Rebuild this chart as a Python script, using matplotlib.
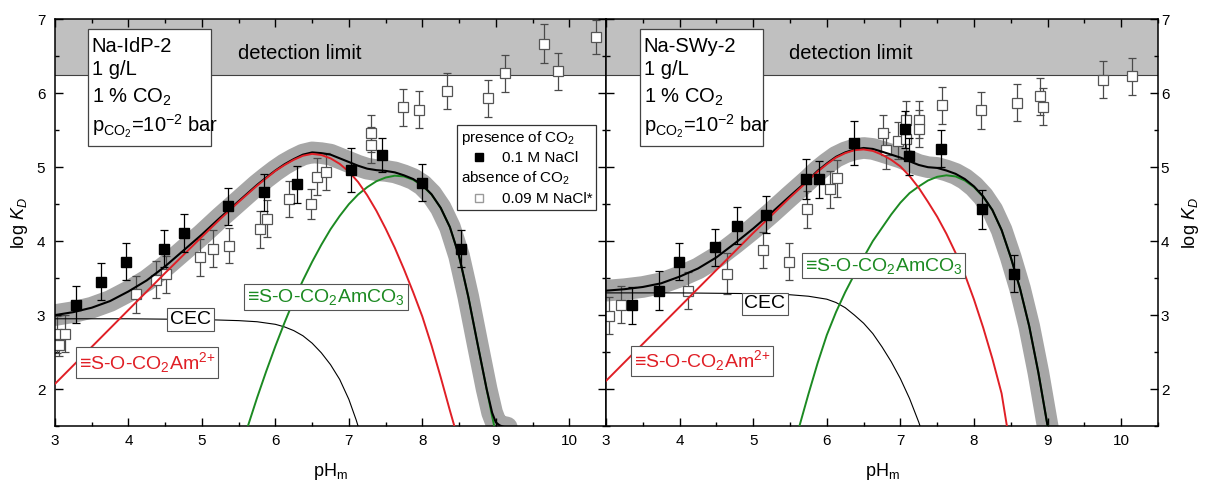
import matplotlib
matplotlib.use("Agg")
import matplotlib.pyplot as plt
from matplotlib.lines import Line2D
from matplotlib.patches import Rectangle
from matplotlib.ticker import MultipleLocator

plt.rcParams['font.family'] = ['Liberation Sans', 'DejaVu Sans']
plt.rcParams['mathtext.fontset'] = 'custom'
plt.rcParams['mathtext.rm'] = 'Liberation Sans'
plt.rcParams['mathtext.it'] = 'Liberation Sans:italic'
plt.rcParams['mathtext.bf'] = 'Liberation Sans:bold'

# ---------------- Na-IdP-2 ----------------
idp_ph_co2 = [3.28, 3.62, 3.97, 4.49, 4.75, 5.36, 5.84, 6.29, 7.03, 7.45, 7.99, 8.53]
idp_kd_co2 = [3.14, 3.45, 3.72, 3.90, 4.11, 4.47, 4.66, 4.77, 4.96, 5.17, 4.79, 3.90]
idp_err_co2 = [0.25, 0.25, 0.25, 0.25, 0.26, 0.25, 0.25, 0.25, 0.30, 0.23, 0.25, 0.25]

idp_ph_noco2 = [3.03, 3.13, 3.06, 4.10, 4.37, 4.51, 4.98, 5.15, 5.37, 5.79, 5.89, 6.19,
                6.48, 6.56, 6.69, 7.30, 7.30, 7.74, 7.95, 8.33, 8.89, 9.12, 9.65, 9.84, 10.37]
idp_kd_noco2 = [2.74, 2.75, 2.59, 3.28, 3.48, 3.55, 3.78, 3.90, 3.94, 4.16, 4.30, 4.57,
                4.50, 4.87, 4.94, 5.30, 5.46, 5.81, 5.78, 6.03, 5.93, 6.27, 6.67, 6.30, 6.76]
idp_err_noco2 = [0.25, 0.25, 0.15, 0.25, 0.25, 0.25, 0.25, 0.25, 0.24, 0.25, 0.25, 0.25,
                 0.20, 0.25, 0.25, 0.25, 0.25, 0.25, 0.25, 0.24, 0.25, 0.25, 0.26, 0.25, 0.23]

idp_red_ph = [3.0, 3.5, 4.0, 4.5, 5.0, 5.25, 5.5, 5.75, 5.875, 6.0, 6.125, 6.25, 6.375, 6.5,
              6.625, 6.75, 6.875, 7.0, 7.125, 7.25, 7.375, 7.5, 7.625, 7.75, 7.875, 8.0,
              8.125, 8.25, 8.375, 8.45]
idp_red_kd = [2.07, 2.57, 3.07, 3.57, 4.06, 4.30, 4.53, 4.75, 4.85, 4.95, 5.03, 5.10, 5.155, 5.18,
              5.165, 5.12, 5.045, 4.94, 4.80, 4.62, 4.41, 4.17, 3.91, 3.62, 3.31, 2.98,
              2.59, 2.16, 1.71, 1.45]

idp_green_ph = [5.60, 5.75, 5.875, 6.0, 6.125, 6.25, 6.375, 6.5, 6.625, 6.75, 6.875, 7.0,
                7.125, 7.25, 7.375, 7.5, 7.625, 7.75, 7.875, 8.0, 8.125, 8.25, 8.375, 8.5,
                8.625, 8.75, 8.875, 8.95, 9.0]
idp_green_kd = [1.42, 1.88, 2.24, 2.58, 2.90, 3.20, 3.47, 3.72, 3.95, 4.16, 4.34, 4.50,
                4.63, 4.73, 4.81, 4.86, 4.885, 4.875, 4.83, 4.75, 4.63, 4.45, 4.19, 3.80,
                3.25, 2.62, 2.00, 1.63, 1.40]

idp_cec_ph = [3.0, 4.0, 5.0, 5.5, 5.75, 6.0, 6.125, 6.25, 6.375, 6.5, 6.625, 6.75, 6.875,
              7.0, 7.1, 7.15]
idp_cec_kd = [2.95, 2.95, 2.94, 2.925, 2.91, 2.875, 2.84, 2.79, 2.72, 2.62, 2.49, 2.33, 2.13,
              1.86, 1.58, 1.42]

idp_tot_ph = [3.0, 3.25, 3.5, 3.75, 4.0, 4.25, 4.5, 4.75, 5.0, 5.25, 5.5, 5.75, 5.875, 6.0,
              6.125, 6.25, 6.375, 6.5, 6.625, 6.75, 6.875, 7.0, 7.125, 7.25, 7.375, 7.5,
              7.625, 7.75, 7.875, 8.0, 8.125, 8.25, 8.375, 8.5, 8.625, 8.75, 8.875, 8.95,
              9.0, 9.05, 9.1, 9.15]
idp_tot_kd = [3.00, 3.04, 3.10, 3.19, 3.32, 3.47, 3.66, 3.875, 4.09, 4.32, 4.54, 4.76, 4.86, 4.955,
              5.04, 5.11, 5.17, 5.20, 5.19, 5.17, 5.12, 5.07, 5.02, 4.98, 4.96, 4.95,
              4.93, 4.89, 4.84, 4.76, 4.634, 4.45, 4.19, 3.80, 3.25, 2.62, 2.00, 1.68,
              1.55, 1.51, 1.49, 1.48]

# ---------------- Na-SWy-2 ----------------
swy_ph_co2 = [3.35, 3.72, 3.99, 4.48, 4.78, 5.18, 5.72, 5.90, 6.37, 7.06, 7.12, 7.55, 8.11, 8.54]
swy_kd_co2 = [3.13, 3.33, 3.72, 3.92, 4.21, 4.36, 4.84, 4.84, 5.33, 5.51, 5.15, 5.25, 4.43, 3.56]
swy_err_co2 = [0.25, 0.26, 0.25, 0.25, 0.25, 0.25, 0.27, 0.25, 0.30, 0.25, 0.25, 0.25, 0.26, 0.25]

swy_ph_noco2 = [3.04, 3.20, 4.12, 4.65, 5.13, 5.49, 5.73, 6.04, 6.14, 6.76, 6.80, 6.97, 7.08,
                7.08, 7.25, 7.25, 7.56, 8.10, 8.58, 8.89, 8.94, 9.75, 10.14]
swy_kd_noco2 = [2.99, 3.14, 3.33, 3.56, 3.88, 3.72, 4.43, 4.70, 4.85, 5.46, 5.23, 5.36, 5.64,
                5.38, 5.64, 5.52, 5.84, 5.77, 5.87, 5.96, 5.82, 6.18, 6.23]
swy_err_noco2 = [0.25, 0.25, 0.25, 0.28, 0.25, 0.25, 0.25, 0.25, 0.25, 0.25, 0.25, 0.25, 0.25,
                 0.25, 0.25, 0.25, 0.25, 0.25, 0.25, 0.25, 0.25, 0.25, 0.25]

swy_red_ph = [3.0, 3.5, 4.0, 4.5, 5.0, 5.25, 5.5, 5.75, 5.875, 6.0, 6.125, 6.25, 6.375, 6.5,
              6.625, 6.75, 6.875, 7.0, 7.125, 7.25, 7.375, 7.5, 7.625, 7.75, 7.875, 8.0,
              8.125, 8.25, 8.375, 8.46]
swy_red_kd = [2.11, 2.61, 3.11, 3.61, 4.11, 4.35, 4.59, 4.82, 4.94, 5.04, 5.13, 5.19, 5.23, 5.24,
              5.22, 5.17, 5.10, 5.01, 4.88, 4.72, 4.53, 4.33, 4.10, 3.84, 3.55, 3.21,
              2.83, 2.41, 1.94, 1.42]

swy_green_ph = [5.60, 5.75, 5.875, 6.0, 6.125, 6.25, 6.375, 6.5, 6.625, 6.75, 6.875, 7.0,
                7.125, 7.25, 7.375, 7.5, 7.625, 7.75, 7.875, 8.0, 8.125, 8.25, 8.375, 8.5,
                8.625, 8.75, 8.875, 9.0, 9.05]
swy_green_kd = [1.40, 1.93, 2.35, 2.73, 3.04, 3.31, 3.55, 3.78, 4.00, 4.18, 4.36, 4.52,
                4.65, 4.74, 4.82, 4.87, 4.89, 4.875, 4.82, 4.73, 4.60, 4.42, 4.15, 3.78,
                3.36, 2.85, 2.22, 1.50, 1.22]

swy_cec_ph = [3.0, 4.0, 5.0, 5.5, 5.75, 6.0, 6.125, 6.25, 6.375, 6.5, 6.625, 6.75, 6.875,
              7.0, 7.125, 7.25, 7.3]
swy_cec_kd = [3.30, 3.30, 3.29, 3.275, 3.255, 3.215, 3.17, 3.10, 3.00, 2.89, 2.75, 2.57, 2.37,
              2.14, 1.87, 1.55, 1.40]

swy_tot_ph = [3.0, 3.25, 3.5, 3.75, 4.0, 4.25, 4.5, 4.75, 5.0, 5.25, 5.5, 5.75, 5.875, 6.0,
              6.125, 6.25, 6.375, 6.5, 6.625, 6.75, 6.875, 7.0, 7.125, 7.25, 7.375, 7.5,
              7.625, 7.75, 7.875, 8.0, 8.125, 8.25, 8.375, 8.5, 8.625, 8.75, 8.875, 9.0, 9.05]
swy_tot_kd = [3.33, 3.35, 3.38, 3.43, 3.52, 3.63, 3.78, 3.97, 4.17, 4.385, 4.61, 4.83, 4.95, 5.05,
              5.14, 5.20, 5.24, 5.26, 5.247, 5.21, 5.17, 5.13, 5.08, 5.03, 5.00, 4.99,
              4.955, 4.91, 4.84, 4.74, 4.605, 4.42, 4.15, 3.78, 3.36, 2.85, 2.22, 1.50, 1.22]

RED = '#e01f26'
GREEN = '#1c8a22'
BAND = '#a6a6a6'
DET = '#c0c0c0'

W, H = 1205, 486
fig = plt.figure(figsize=(W / 100, H / 100), dpi=100)
ax_b, ax_h = 1 - 426 / H, (426 - 19.3) / H
ax1 = fig.add_axes([55 / W, ax_b, 551 / W, ax_h])
ax2 = fig.add_axes([606 / W, ax_b, 552 / W, ax_h])


def draw_panel(ax, d):
    ax.set_xlim(3, 10.5)
    ax.set_ylim(1.5, 7)
    # region above the detection limit
    ax.axhspan(6.25, 7.0, color=DET, zorder=0, lw=0)
    ax.axhline(6.25, color='#404040', lw=0.8, zorder=0.6)
    ax.text(6.33, 6.46, 'detection limit', ha='center', va='baseline', fontsize=14.5, zorder=1)

    # model: total sorption drawn with its uncertainty band
    ax.plot(d['tot_ph'], d['tot_kd'], color=BAND, lw=15.6, solid_capstyle='round',
            solid_joinstyle='round', zorder=1.5)

    # experimental data without CO2
    ax.errorbar(d['ph_n'], d['kd_n'], yerr=d['err_n'], fmt='none', ecolor='#4a4a4a',
                elinewidth=0.9, capsize=3, capthick=0.9, zorder=2)
    ax.plot(d['ph_n'], d['kd_n'], ls='none', marker='s', ms=6.5, mfc='white',
            mec='#555555', mew=0.9, zorder=2.5)

    # species contributions
    ax.plot(d['cec_ph'], d['cec_kd'], color='black', lw=0.8, zorder=3)
    ax.plot(d['green_ph'], d['green_kd'], color=GREEN, lw=1.4, zorder=3.2)
    ax.plot(d['tot_ph'], d['tot_kd'], color='black', lw=1.5, zorder=3.3)
    ax.plot(d['red_ph'], d['red_kd'], color=RED, lw=1.4, zorder=3.4)

    # experimental data with CO2
    ax.errorbar(d['ph_c'], d['kd_c'], yerr=d['err_c'], fmt='none', ecolor='black',
                elinewidth=0.9, capsize=3, capthick=0.9, zorder=4)
    ax.plot(d['ph_c'], d['kd_c'], ls='none', marker='s', ms=7.2, mfc='black',
            mec='black', zorder=4.5)

    box = dict(boxstyle='square,pad=0.15', fc='white', ec='#555555', lw=0.8)
    ax.text(*d['cec_lab'], 'CEC', ha='center', va='center', fontsize=14, bbox=box, zorder=6)
    ax.text(*d['red_lab'], '≡S-O-CO$_2$Am$^{2{+}}$', ha='center', va='center', fontsize=14,
            color=RED, bbox=box, zorder=6)
    ax.text(*d['green_lab'], '≡S-O-CO$_2$AmCO$_3$', ha='center', va='center', fontsize=14,
            color=GREEN, bbox=box, zorder=6)

    # sample description box
    bx, tx = d['info_x']
    ax.add_patch(Rectangle((bx, 0.689), 0.2236, 0.286, transform=ax.transAxes,
                           fc='white', ec='#444444', lw=0.9, zorder=6))
    lines = [d['name'], '1 g/L', '1 % CO$_2$', 'p$_{\\mathrm{CO_2}}$=10$^{-2}$ bar']
    for s, yy in zip(lines, [0.9196, 0.863, 0.794, 0.7236]):
        ax.text(tx, yy, s, transform=ax.transAxes, ha='left', va='baseline',
                fontsize=14.5, zorder=7)

    ax.xaxis.set_major_locator(MultipleLocator(1))
    ax.xaxis.set_minor_locator(MultipleLocator(0.5))
    ax.yaxis.set_major_locator(MultipleLocator(1))
    ax.yaxis.set_minor_locator(MultipleLocator(0.5))
    ax.tick_params(which='both', direction='in', top=True, right=True, left=True,
                   bottom=True, width=1.0, labelsize=11)
    ax.tick_params(which='major', length=5.5)
    ax.tick_params(which='minor', length=3)
    ax.tick_params(axis='x', pad=6)
    for sp in ax.spines.values():
        sp.set_linewidth(1.1)
    ax.set_xlabel('pH$_\\mathrm{m}$', fontsize=13, labelpad=9)
    ax.set_ylabel('log $K_D$', fontsize=13)


idp = dict(ph_c=idp_ph_co2, kd_c=idp_kd_co2, err_c=idp_err_co2,
           ph_n=idp_ph_noco2, kd_n=idp_kd_noco2, err_n=idp_err_noco2,
           red_ph=idp_red_ph, red_kd=idp_red_kd, green_ph=idp_green_ph, green_kd=idp_green_kd,
           cec_ph=idp_cec_ph, cec_kd=idp_cec_kd, tot_ph=idp_tot_ph, tot_kd=idp_tot_kd,
           cec_lab=(4.85, 2.94), red_lab=(4.25, 2.36), green_lab=(6.69, 3.25),
           info_x=(0.0604, 0.0666), name='Na-IdP-2')
swy = dict(ph_c=swy_ph_co2, kd_c=swy_kd_co2, err_c=swy_err_co2,
           ph_n=swy_ph_noco2, kd_n=swy_kd_noco2, err_n=swy_err_noco2,
           red_ph=swy_red_ph, red_kd=swy_red_kd, green_ph=swy_green_ph, green_kd=swy_green_kd,
           cec_ph=swy_cec_ph, cec_kd=swy_cec_kd, tot_ph=swy_tot_ph, tot_kd=swy_tot_kd,
           cec_lab=(5.16, 3.15), red_lab=(4.30, 2.38), green_lab=(6.77, 3.67),
           info_x=(0.0616, 0.0683), name='Na-SWy-2')

draw_panel(ax1, idp)
draw_panel(ax2, swy)

ax1.tick_params(axis='y', labelleft=True, labelright=False, pad=7)
ax1.yaxis.labelpad = 5
ax2.tick_params(axis='y', labelleft=False, labelright=True, pad=2)
ax2.yaxis.set_label_position('right')
ax2.yaxis.labelpad = 8

# legend for the experimental series
h_head1 = Line2D([], [], ls='none')
h_head2 = Line2D([], [], ls='none')
h_co2 = Line2D([], [], ls='none', marker='s', ms=6, mfc='black', mec='black')
h_noco2 = Line2D([], [], ls='none', marker='s', ms=6, mfc='white', mec='#9a9a9a')
leg = ax1.legend([h_head1, h_co2, h_head2, h_noco2],
                 ['presence of CO$_2$', '0.1 M NaCl', 'absence of CO$_2$', '0.09 M NaCl*'],
                 loc='upper left', bbox_to_anchor=(0.7296, 0.740), borderaxespad=0,
                 frameon=True, fancybox=False, edgecolor='#333333', framealpha=1,
                 fontsize=11, handlelength=2.4, handletextpad=0.27, borderpad=0.25,
                 labelspacing=0.3)
leg.get_frame().set_linewidth(0.9)
leg.set_zorder(8)
try:
    rows = leg._legend_handle_box.get_children()[0].get_children()
    for i in (0, 2):
        rows[i].get_children()[0].width = 0
        rows[i].sep = 0
except Exception:
    pass

fig.savefig('out.png', dpi=100)
